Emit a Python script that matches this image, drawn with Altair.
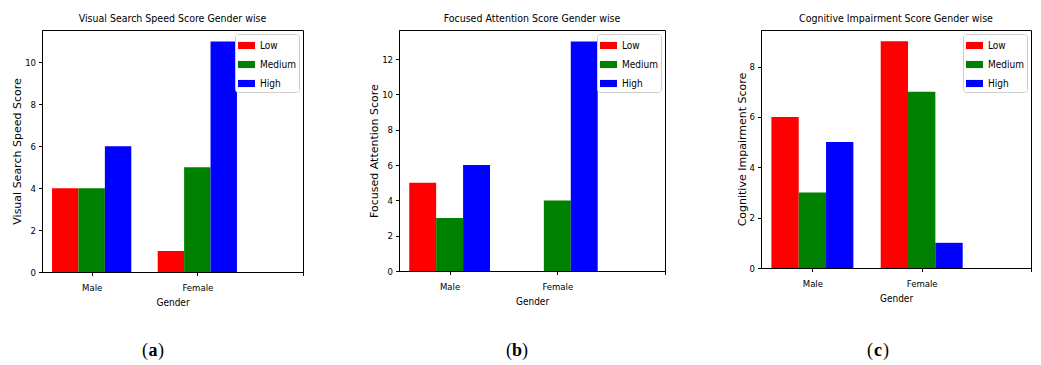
import altair as alt
import pandas as pd

genders = ["Male", "Female"]
levels = ["Low", "Medium", "High"]
colors = ["#ff0000", "#008000", "#0000ff"]

visual_low = [4, 1]
visual_medium = [4, 5]
visual_high = [6, 11]

focused_low = [5, 0]
focused_medium = [3, 4]
focused_high = [6, 13]

cognitive_low = [6, 9]
cognitive_medium = [3, 7]
cognitive_high = [5, 1]

titles = ["Visual Search Speed Score Gender wise",
          "Focused Attention Score Gender wise",
          "Cognitive Impairment Score Gender wise"]
ytitles = ["Visual Search Speed Score", "Focused Attention Score", "Cognitive Impairment Score"]
captions = ["a", "b", "c"]

COND = "DejaVu Sans Condensed, DejaVu Sans"


def panel(low, med, high, title, ytitle, ymax, yticks, w, h, cap, capx):
    rows = []
    for gi, g in enumerate(genders):
        for li, (lv, vals) in enumerate(zip(levels, [low, med, high])):
            rows.append({"gender": g, "gidx": gi, "level": lv, "lidx": li, "value": vals[gi]})
    df = pd.DataFrame(rows)
    bars = alt.Chart(df).transform_calculate(
        x0="datum.gidx + (datum.lidx - 1) * 0.25 - 0.125",
        x1="datum.gidx + (datum.lidx - 1) * 0.25 + 0.125",
    ).mark_bar().encode(
        x=alt.X("x0:Q",
                scale=alt.Scale(domain=[-0.47, 2], nice=False, zero=False),
                axis=alt.Axis(values=[0, 1, 2],
                              labelExpr="datum.value == 0 ? 'Male' : datum.value == 1 ? 'Female' : ''",
                              title="Gender")),
        x2="x1:Q",
        y=alt.Y("value:Q", scale=alt.Scale(domain=[0, ymax], nice=False),
                axis=alt.Axis(values=yticks, title=ytitle, titleFont="DejaVu Sans",
                              titleFontSize=11)),
        y2=alt.Y2(datum=0),
        color=alt.Color("level:N", sort=levels,
                        scale=alt.Scale(domain=levels, range=colors),
                        legend=alt.Legend(title=None, orient="top-right")),
    )
    capdf = pd.DataFrame({"t": [cap], "o": ["("], "c": [")"]})
    base = alt.Chart(capdf)
    cy = 321
    lp = base.mark_text(font="Liberation Serif", fontSize=18).encode(
        text="o:N", x=alt.value(capx - 8), y=alt.value(cy))
    lt = base.mark_text(font="Liberation Serif", fontSize=18, fontWeight="bold").encode(
        text="t:N", x=alt.value(capx), y=alt.value(cy))
    rp = base.mark_text(font="Liberation Serif", fontSize=18).encode(
        text="c:N", x=alt.value(capx + 8), y=alt.value(cy))
    return alt.layer(bars, lp, lt, rp).properties(
        width=w, height=h,
        title=alt.Title(title, font=COND, fontSize=10.5, fontWeight="normal", offset=6),
    )


pa = panel(visual_low, visual_medium, visual_high, titles[0], ytitles[0], 11.55,
           [0, 2, 4, 6, 8, 10], 261, 242, captions[0], 111)
pb = panel(focused_low, focused_medium, focused_high, titles[1], ytitles[1], 13.65,
           [0, 2, 4, 6, 8, 10, 12], 266, 241, captions[1], 118)
pc = panel(cognitive_low, cognitive_medium, cognitive_high, titles[2], ytitles[2], 9.45,
           [0, 2, 4, 6, 8], 270, 238, captions[2], 117)

chart = alt.hconcat(pa, pb, pc, spacing=96, bounds="flush").resolve_scale(
    x="independent", y="independent", color="independent"
).properties(
    padding={"left": 11, "top": 13, "right": 5, "bottom": 5},
    background="white",
).configure_view(
    stroke="black", strokeWidth=1,
).configure_axis(
    grid=False, domainColor="black", tickColor="black", tickSize=3.5,
    labelFont=COND, labelFontSize=9.5, labelColor="black",
    titleFont=COND, titleFontSize=10, titleFontWeight="normal", titleColor="black",
).configure_axisX(
    labelPadding=7, titlePadding=5,
).configure_axisY(
    labelPadding=3, titlePadding=2,
).configure_legend(
    orient="top-right", offset=4, padding=3, strokeColor="#cccccc", fillColor="white",
    cornerRadius=3, symbolType="M-1,-0.42H1V0.42H-1Z", symbolSize=289,
    symbolStrokeWidth=0, symbolOpacity=1, labelFont=COND, labelFontSize=10,
    labelColor="black", rowPadding=5, labelOffset=5,
).configure_title(color="black")

chart.save("out.html", embed_options={"renderer": "svg", "actions": False})
